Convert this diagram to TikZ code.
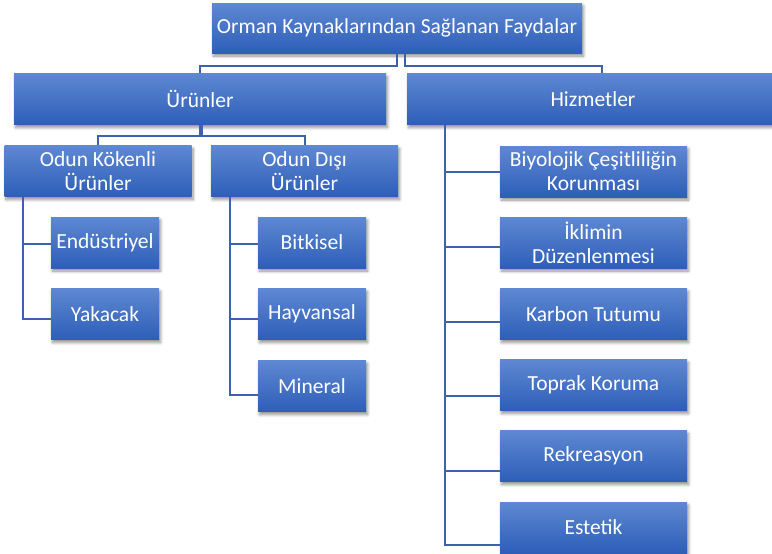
\documentclass[tikz,border=0pt]{standalone}
\usepackage{fontspec}
\setmainfont{Carlito}
\usetikzlibrary{shadows.blur}
\definecolor{boxtop}{RGB}{94,136,210}
\definecolor{boxbot}{RGB}{46,94,184}
\definecolor{linkblue}{RGB}{60,98,172}

\begin{document}
\begin{tikzpicture}[x=1pt, y=-1pt,
  box/.style={top color=boxtop, bottom color=boxbot, text=white, inner sep=0pt, align=center,
    font=\fontsize{21.5}{24}\selectfont, minimum height=51,
    blur shadow={shadow xshift=1.5pt, shadow yshift=-3pt, shadow opacity=45, shadow blur steps=6, shadow blur radius=3pt}},
  wide/.style={box, minimum width=372},
  mid/.style={box, minimum width=187},
  small/.style={box, minimum width=108},
  link/.style={draw=linkblue, line width=2pt}]
  \useasboundingbox (0,0) rectangle (772,554);

  \node[box, minimum width=370, minimum height=50] (F) at (397,28) {Orman Kaynaklarından Sağlanan Faydalar};

  \node[wide] (U) at (200,99) {Ürünler};
  \node[wide] (H) at (593,99) {Hizmetler};

  \node[mid] (K) at (98,171) {Odun Kökenli\\Ürünler};
  \node[mid] (D) at (304.5,171) {Odun Dışı\\Ürünler};

  \node[small] (E) at (105,242.5) {Endüstriyel};
  \node[small] (Y) at (105,314) {Yakacak};

  \node[small] (B) at (312,242.5) {Bitkisel};
  \node[small] (Hy) at (312,314) {Hayvansal};
  \node[small] (M) at (312,386) {Mineral};

  \node[mid] (S1) at (593.5,171.5) {Biyolojik Çeşitliliğin\\Korunması};
  \node[mid] (S2) at (593.5,242.5) {İklimin\\Düzenlenmesi};
  \node[mid] (S3) at (593.5,314) {Karbon Tutumu};
  \node[mid] (S4) at (593.5,385) {Toprak Koruma};
  \node[mid] (S5) at (593.5,456) {Rekreasyon};
  \node[mid] (S6) at (593.5,527.5) {Estetik};

  % top level links
  \draw[link] (F.south) -- ++(0,13) -| (U.north);
  \draw[link] ([xshift=8pt]F.south) -- ++(0,13) -| ([xshift=9pt]H.north);

  \draw[link] (U.south) -- ++(0,11) -| (K.north);
  \draw[link] ([xshift=2pt]U.south) -- ++(0,11) -| (D.north);

  % side branches
  \draw[link] ([xshift=19pt]K.south west) |- ([yshift=-1.5pt]E.west);
  \draw[link] ([xshift=19pt]K.south west) |- ([yshift=-5pt]Y.west);

  \draw[link] ([xshift=19pt]D.south west) |- ([yshift=-1.5pt]B.west);
  \draw[link] ([xshift=19pt]D.south west) |- ([yshift=-5pt]Hy.west);
  \draw[link] ([xshift=19pt]D.south west) |- ([yshift=-9pt]M.west);

  \draw[link] ([xshift=38pt]H.south west) |- ([yshift=-0.5pt]S1.west);
  \draw[link] ([xshift=38pt]H.south west) |- ([yshift=-4.5pt]S2.west);
  \draw[link] ([xshift=38pt]H.south west) |- ([yshift=-8pt]S3.west);
  \draw[link] ([xshift=38pt]H.south west) |- ([yshift=-11pt]S4.west);
  \draw[link] ([xshift=38pt]H.south west) |- ([yshift=-15pt]S5.west);
  \draw[link] ([xshift=38pt]H.south west) |- ([yshift=-17.5pt]S6.west);
\end{tikzpicture}
\end{document}
